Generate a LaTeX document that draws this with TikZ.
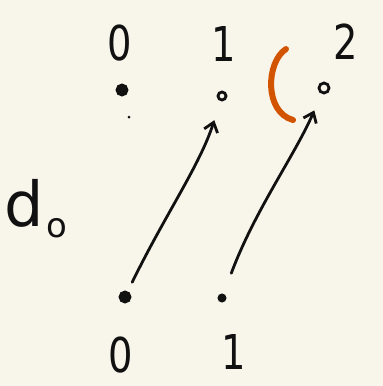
\documentclass[tikz,border=0pt]{standalone}
\usepackage{fontspec}
\setmainfont{DejaVu Sans}
\usetikzlibrary{arrows.meta}
\definecolor{bg}{HTML}{F8F5EA}
\definecolor{ink}{HTML}{111111}
\definecolor{orng}{HTML}{D35400}
\begin{document}
\begin{tikzpicture}[x=1pt,y=-1pt,
  lbl/.style={text=ink,font=\fontsize{48}{48}\selectfont\addfontfeature{FakeStretch=0.8},inner sep=0pt},
  pt/.style={circle,draw=ink,line width=2.8pt,inner sep=0pt,minimum size=#1},
  arr/.style={draw=ink,line width=2.8pt,line cap=round,-{Straight Barb[length=9pt,width=14pt,line width=2.8pt]}}]
\useasboundingbox[fill=bg] (0,0) rectangle (383,386);
% top labels
\node[lbl] (l0) at (120,43) {0};
\node[lbl] (l1) at (224,44) {1};
\node[lbl] (l2) at (346,42) {2};
% top points
\node[pt=10pt,fill=ink] (t0) at (122,90) {};
\node[pt=8pt] (t1) at (222,96) {};
\node[pt=10pt] (t2) at (324,88) {};
\fill[ink] (129,117) circle (1.5);
% d_0
\node[text=ink,inner sep=0pt,font=\fontsize{62}{62}\selectfont] (d) at (24,203) {d};
\node[text=ink,inner sep=0pt,font=\fontsize{34}{34}\selectfont] (o) at (57,228) {o};
% bottom points
\node[pt=10pt,fill=ink] (b0) at (125,297) {};
\node[pt=6pt,fill=ink] (b1) at (222,298) {};
% bottom labels
\node[lbl] (m0) at (121,355) {0};
\node[lbl] (m1) at (234,352) {1};
% arrows
\draw[arr,shorten <=10pt,shorten >=20pt] (b0) .. controls (165,215) and (200,165) .. (t1);
\draw[arr,shorten <=22pt,shorten >=18pt] (b1) .. controls (255,210) and (295,155) .. (t2);
% orange parenthesis
\coordinate (p1) at (286,49);
\coordinate (p2) at (293,120);
\draw[orng,line width=6pt,line cap=round] (p1) .. controls (266,62) and (264,112) .. (p2);
\end{tikzpicture}
\end{document}
